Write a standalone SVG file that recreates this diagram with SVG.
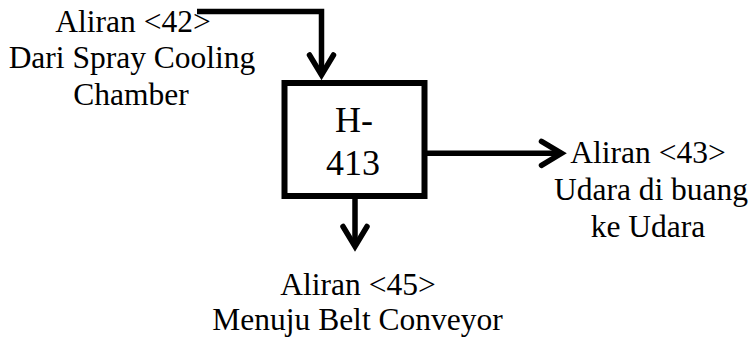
<svg xmlns="http://www.w3.org/2000/svg" width="753" height="338" viewBox="0 0 753 338">
<style>
.lbl{font-family:"Liberation Serif","Times New Roman",serif;font-size:31.5px;fill:#000;text-anchor:middle}
.box-t{font-family:"Liberation Serif","Times New Roman",serif;font-size:36px;fill:#000;text-anchor:middle}
.conn{fill:none;stroke:#000;stroke-width:5.5;stroke-linejoin:miter;marker-end:url(#chev)}
.box{fill:#fff;stroke:#000;stroke-width:6}
</style>
<defs>
<marker id="chev" markerUnits="userSpaceOnUse" viewBox="-26 -16 32 32" refX="0" refY="0" markerWidth="32" markerHeight="32" orient="auto" overflow="visible">
<path d="M-20,-12 L0,0 L-20,12" fill="none" stroke="#000" stroke-width="5.5" stroke-linecap="round" stroke-linejoin="miter"/>
</marker>
</defs>
<rect width="753" height="338" fill="#fff"/>
<g id="connectors">
<path class="conn" d="M197,11.5 H321.5 V75"/>
<path class="conn" d="M427,153.3 H561.5"/>
<path class="conn" d="M355,199 V246.5"/>
</g>
<g id="node-h413">
<rect class="box" x="284.5" y="83" width="140" height="113"/>
<text class="box-t" x="354" y="132">H-</text>
<text class="box-t" x="353" y="175">413</text>
</g>
<g id="label-42">
<text class="lbl" x="133" y="32">Aliran &lt;42&gt;</text>
<text class="lbl" x="132" y="68">Dari Spray Cooling</text>
<text class="lbl" x="131" y="105">Chamber</text>
</g>
<g id="label-43">
<text class="lbl" x="648" y="163">Aliran &lt;43&gt;</text>
<text class="lbl" x="651" y="200">Udara di buang</text>
<text class="lbl" x="648" y="237">ke Udara</text>
</g>
<g id="label-45">
<text class="lbl" x="358" y="295">Aliran &lt;45&gt;</text>
<text class="lbl" x="357.5" y="330">Menuju Belt Conveyor</text>
</g>
</svg>
